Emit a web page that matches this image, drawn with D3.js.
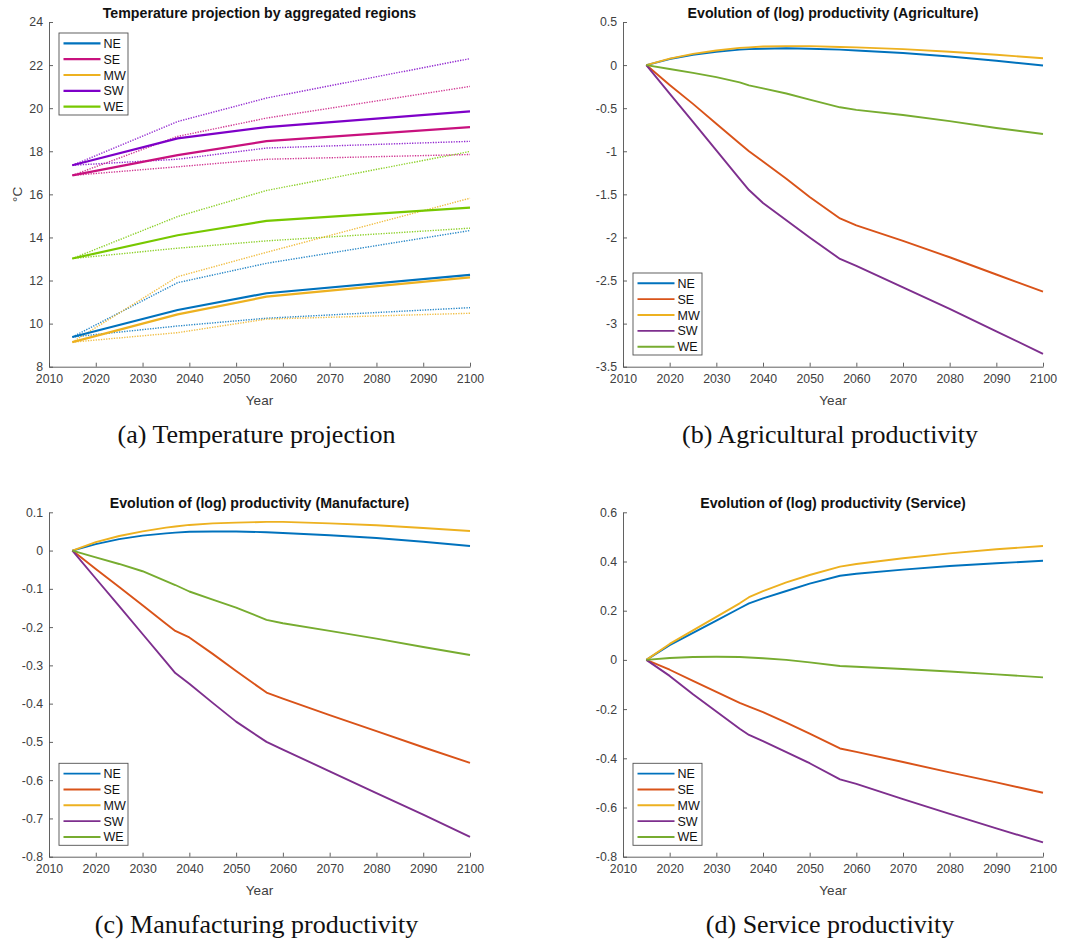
<!DOCTYPE html>
<html>
<head>
<meta charset="utf-8">
<script src="https://cdn.jsdelivr.net/npm/d3@7"></script>
<style>
  body { margin: 0; background: #fff; }
  svg { display: block; }
  .axis text { font-family: "Liberation Sans", Arial, sans-serif; font-size: 12.3px; fill: #404040; }
  .axis path, .axis line { stroke: #505050; stroke-width: 0.9; }
  .title { font-family: "Liberation Sans", Arial, sans-serif; font-size: 14.2px; font-weight: bold; fill: #111; }
  .label { font-family: "Liberation Sans", Arial, sans-serif; font-size: 13.5px; fill: #404040; }
  .legend text { font-family: "Liberation Sans", Arial, sans-serif; font-size: 12.5px; fill: #111; }
  .caption { font-family: "Liberation Serif", "Times New Roman", serif; font-size: 26px; fill: #111; }
</style>
</head>
<body>
<div class="chart"></div>
<script>
// regions, in legend order
const regions = ["NE", "SE", "MW", "SW", "WE"];

// colours: panel (a) uses its own palette, the others MATLAB defaults
const tempColors = ["#0072BD", "#C8117E", "#EDB120", "#7E00C8", "#77C800"];
const prodColors = ["#0072BD", "#D95319", "#EDB120", "#7E2F8E", "#77AC30"];

// (a) temperature projection
const tempYears = [2015, 2037.5, 2056.5, 2100];
const tempMean = [
    [9.38, 10.63, 11.41, 12.26],   // NE
    [16.88, 17.82, 18.47, 19.12],  // SE
    [9.14, 10.43, 11.25, 12.15],   // MW
    [17.35, 18.6, 19.12, 19.85],   // SW
    [13.02, 14.1, 14.77, 15.38]    // WE
];
const tempHigh = [
    [9.38, 11.9, 12.8, 14.32],
    [16.88, 18.69, 19.54, 21.01],
    [9.14, 12.18, 13.31, 15.82],
    [17.35, 19.38, 20.47, 22.3],
    [13.02, 14.97, 16.18, 17.99]
];
const tempLow = [
    [9.38, 9.89, 10.25, 10.74],
    [16.88, 17.28, 17.63, 17.85],
    [9.14, 9.58, 10.21, 10.48],
    [17.35, 17.63, 18.15, 18.46],
    [13.02, 13.5, 13.84, 14.43]
];

// (b)-(d) log productivity
const prodYears = [2015, 2020, 2025, 2030, 2035, 2037, 2040, 2045, 2050, 2056.5, 2060, 2070, 2080, 2090, 2100];
const agriculture = [
    [0, 0.07, 0.12, 0.155, 0.18, 0.185, 0.19, 0.195, 0.19, 0.18, 0.17, 0.14, 0.1, 0.05, -0.005],
    [0, -0.23, -0.45, -0.68, -0.91, -1.0, -1.12, -1.32, -1.53, -1.78, -1.86, -2.04, -2.23, -2.43, -2.63],
    [0, 0.075, 0.13, 0.17, 0.2, 0.205, 0.215, 0.22, 0.22, 0.21, 0.205, 0.185, 0.155, 0.12, 0.08],
    [0, -0.33, -0.66, -0.99, -1.32, -1.45, -1.6, -1.8, -2.0, -2.25, -2.33, -2.58, -2.83, -3.09, -3.35],
    [0, -0.045, -0.09, -0.14, -0.2, -0.235, -0.27, -0.33, -0.4, -0.49, -0.52, -0.58, -0.65, -0.73, -0.80]
];
const manufacture = [
    [0, 0.017, 0.03, 0.039, 0.045, 0.047, 0.049, 0.05, 0.05, 0.048, 0.046, 0.04, 0.033, 0.023, 0.012],
    [0, -0.048, -0.095, -0.143, -0.191, -0.21, -0.227, -0.27, -0.315, -0.371, -0.387, -0.43, -0.472, -0.514, -0.555],
    [0, 0.022, 0.038, 0.05, 0.06, 0.063, 0.067, 0.071, 0.073, 0.075, 0.075, 0.071, 0.066, 0.059, 0.051],
    [0, -0.073, -0.145, -0.218, -0.291, -0.32, -0.348, -0.398, -0.447, -0.5, -0.52, -0.577, -0.634, -0.69, -0.748],
    [0, -0.018, -0.035, -0.054, -0.08, -0.09, -0.107, -0.128, -0.149, -0.181, -0.19, -0.21, -0.23, -0.252, -0.273]
];
const service = [
    [0, 0.06, 0.11, 0.16, 0.21, 0.23, 0.25, 0.28, 0.31, 0.342, 0.35, 0.367, 0.382, 0.393, 0.403],
    [0, -0.04, -0.085, -0.13, -0.175, -0.19, -0.212, -0.255, -0.3, -0.36, -0.374, -0.415, -0.457, -0.498, -0.54],
    [0, 0.065, 0.12, 0.175, 0.23, 0.255, 0.28, 0.315, 0.345, 0.379, 0.39, 0.413, 0.433, 0.45, 0.463],
    [0, -0.065, -0.14, -0.21, -0.28, -0.305, -0.33, -0.375, -0.42, -0.486, -0.504, -0.566, -0.626, -0.685, -0.742],
    [0, 0.008, 0.012, 0.013, 0.012, 0.01, 0.007, 0, -0.01, -0.025, -0.028, -0.037, -0.047, -0.059, -0.071]
];

// tick labels
const xTicks = [2010, 2020, 2030, 2040, 2050, 2060, 2070, 2080, 2090, 2100];
const yTicksA = [8, 10, 12, 14, 16, 18, 20, 22, 24];
const yTicksB = [-3.5, -3, -2.5, -2, -1.5, -1, -0.5, 0, 0.5];
const yTicksC = [-0.8, -0.7, -0.6, -0.5, -0.4, -0.3, -0.2, -0.1, 0, 0.1];
const yTicksD = [-0.8, -0.6, -0.4, -0.2, 0, 0.2, 0.4, 0.6];

const svg = d3.select(".chart")
    .append("svg")
    .attr("width", 1081)
    .attr("height", 945);

// one panel: box = plot area in page pixels
function Panel(opts) {
    const b = opts.box;
    const width = b.right - b.left,
        height = b.bottom - b.top;

    const g = svg.append("g")
        .attr("transform", "translate(" + b.left + "," + b.top + ")");

    const xScale = d3.scaleLinear().domain([2010, 2100]).range([0, width]);
    const yScale = d3.scaleLinear().domain(d3.extent(opts.yTicks)).range([height, 0]);

    // axes, ticks pointing inward like MATLAB
    const xAxis = d3.axisBottom(xScale)
        .tickValues(xTicks)
        .tickSizeInner(-4)
        .tickSizeOuter(0)
        .tickPadding(8)
        .tickFormat(d => String(d));

    const yAxis = d3.axisLeft(yScale)
        .tickValues(opts.yTicks)
        .tickSizeInner(-4)
        .tickSizeOuter(0)
        .tickPadding(6)
        .tickFormat(d => String(d));

    g.append("g")
        .attr("class", "axis x-axis")
        .attr("transform", "translate(0," + height + ")")
        .call(xAxis);

    g.append("g")
        .attr("class", "axis y-axis")
        .call(yAxis);

    const line = d3.line()
        .x(d => xScale(d[0]))
        .y(d => yScale(d[1]));

    // dotted range lines first (temperature only)
    if (opts.low) {
        [opts.low, opts.high].forEach(set => {
            set.forEach((vals, i) => {
                g.append("path")
                    .datum(opts.years.map((yr, k) => [yr, vals[k]]))
                    .attr("fill", "none")
                    .attr("stroke", opts.colors[i])
                    .attr("stroke-width", 1.4)
                    .attr("stroke-opacity", 0.85)
                    .attr("stroke-dasharray", "1.3,1.3")
                    .attr("d", line);
            });
        });
    }

    opts.series.forEach((vals, i) => {
        g.append("path")
            .datum(opts.years.map((yr, k) => [yr, vals[k]]))
            .attr("fill", "none")
            .attr("stroke", opts.colors[i])
            .attr("stroke-width", opts.lineWidth)
            .attr("stroke-linejoin", "round")
            .attr("d", line);
    });

    // title, axis labels, caption
    g.append("text")
        .attr("class", "title")
        .attr("x", width / 2)
        .attr("y", -4)
        .attr("text-anchor", "middle")
        .text(opts.title);

    g.append("text")
        .attr("class", "label")
        .attr("x", width / 2)
        .attr("y", height + 38)
        .attr("text-anchor", "middle")
        .text("Year");

    if (opts.ylabel) {
        g.append("text")
            .attr("class", "label")
            .attr("transform", "translate(-27," + (height / 2) + ") rotate(-90)")
            .attr("text-anchor", "middle")
            .text(opts.ylabel);
    }

    g.append("text")
        .attr("class", "caption")
        .attr("x", width / 2 - 3)
        .attr("y", height + 76)
        .attr("text-anchor", "middle")
        .text(opts.caption);

    // legend
    const lg = g.append("g")
        .attr("class", "legend")
        .attr("transform", "translate(" + opts.legend[0] + "," + opts.legend[1] + ")");

    lg.append("rect")
        .attr("width", 69)
        .attr("height", 82)
        .attr("fill", "#fff")
        .attr("stroke", "#505050")
        .attr("stroke-width", 0.9);

    regions.forEach((r, i) => {
        const yy = 10.3 + i * 15.85;
        lg.append("line")
            .attr("x1", 4.5).attr("x2", 41.5)
            .attr("y1", yy).attr("y2", yy)
            .attr("stroke", opts.colors[i])
            .attr("stroke-width", opts.lineWidth);
        lg.append("text")
            .attr("x", 44.5)
            .attr("y", yy)
            .attr("dy", "0.36em")
            .text(r);
    });
}

const leftBox = { left: 49, right: 470 };
const rightBox = { left: 623, right: 1043 };

Panel({
    box: { left: leftBox.left, right: leftBox.right, top: 22, bottom: 366.7 },
    yTicks: yTicksA, years: tempYears, series: tempMean, low: tempLow, high: tempHigh,
    colors: tempColors, lineWidth: 2.2,
    title: "Temperature projection by aggregated regions", ylabel: "°C",
    caption: "(a) Temperature projection", legend: [10, 11]
});

Panel({
    box: { left: rightBox.left, right: rightBox.right, top: 22, bottom: 366.7 },
    yTicks: yTicksB, years: prodYears, series: agriculture,
    colors: prodColors, lineWidth: 1.9,
    title: "Evolution of (log) productivity (Agriculture)",
    caption: "(b) Agricultural productivity", legend: [10, 251]
});

Panel({
    box: { left: leftBox.left, right: leftBox.right, top: 512.3, bottom: 856.7 },
    yTicks: yTicksC, years: prodYears, series: manufacture,
    colors: prodColors, lineWidth: 1.9,
    title: "Evolution of (log) productivity (Manufacture)",
    caption: "(c) Manufacturing productivity", legend: [10, 251]
});

Panel({
    box: { left: rightBox.left, right: rightBox.right, top: 512.3, bottom: 856.7 },
    yTicks: yTicksD, years: prodYears, series: service,
    colors: prodColors, lineWidth: 1.9,
    title: "Evolution of (log) productivity (Service)",
    caption: "(d) Service productivity", legend: [10, 251]
});
</script>
</body>
</html>
